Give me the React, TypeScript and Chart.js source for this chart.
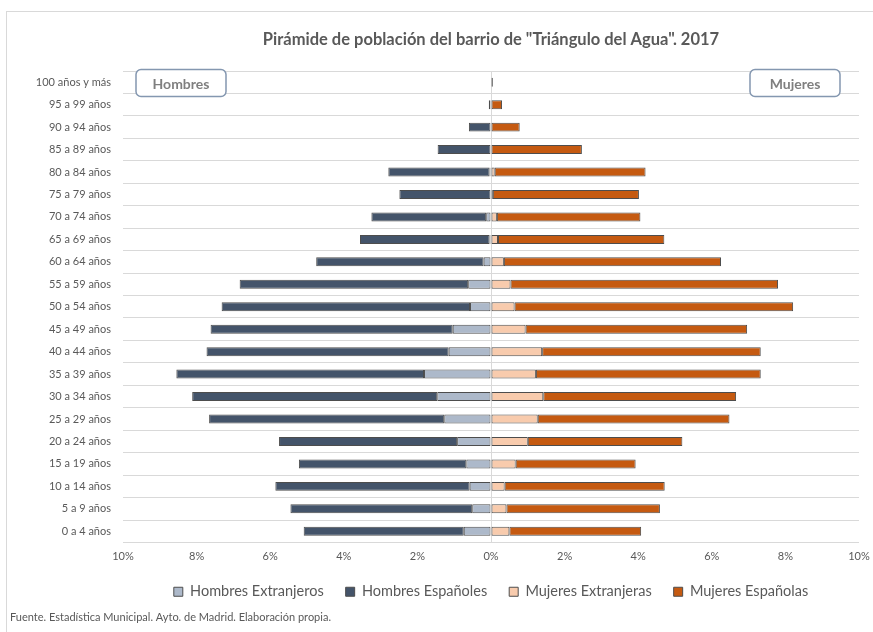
import React, { useEffect, useRef } from "react";
import { Chart, registerables } from "chart.js";

Chart.register(...registerables);

const TITLE = 'Pirámide de población del barrio de "Triángulo del Agua". 2017';
const FOOTER = "Fuente. Estadística Municipal. Ayto. de Madrid. Elaboración propia.";

const AGE_GROUPS = [
  "100 años y más",
  "95 a 99 años",
  "90 a 94 años",
  "85 a 89 años",
  "80 a 84 años",
  "75 a 79 años",
  "70 a 74 años",
  "65 a 69 años",
  "60 a 64 años",
  "55 a 59 años",
  "50 a 54 años",
  "45 a 49 años",
  "40 a 44 años",
  "35 a 39 años",
  "30 a 34 años",
  "25 a 29 años",
  "20 a 24 años",
  "15 a 19 años",
  "10 a 14 años",
  "5 a 9 años",
  "0 a 4 años",
];

// percentages of total population
const HOMBRES_EXTRANJEROS = [0, 0, 0, 0, 0.04, 0.0, 0.13, 0.04, 0.2, 0.62, 0.57, 1.04, 1.15, 1.82, 1.46, 1.27, 0.92, 0.67, 0.58, 0.51, 0.74];
const HOMBRES_ESPANOLES = [0, 0.06, 0.6, 1.45, 2.75, 2.49, 3.12, 3.52, 4.55, 6.21, 6.75, 6.58, 6.58, 6.73, 6.66, 6.39, 4.84, 4.55, 5.28, 4.94, 4.35];
const MUJERES_EXTRANJERAS = [0, 0, 0, 0, 0.1, 0.05, 0.16, 0.19, 0.35, 0.53, 0.64, 0.94, 1.39, 1.22, 1.42, 1.27, 1.0, 0.67, 0.37, 0.42, 0.5];
const MUJERES_ESPANOLAS = [0.05, 0.3, 0.78, 2.47, 4.1, 3.97, 3.9, 4.52, 5.9, 7.27, 7.57, 6.02, 5.94, 6.11, 5.24, 5.21, 4.2, 3.26, 4.35, 4.17, 3.58];

const X_MIN = -10;
const X_MAX = 10;
const X_STEP = 2;

const FONT = "Lato";
const GREY_TEXT = "#595959";

function roundRect(ctx: CanvasRenderingContext2D, x: number, y: number, w: number, h: number, r: number) {
  ctx.beginPath();
  ctx.moveTo(x + r, y);
  ctx.lineTo(x + w - r, y);
  ctx.arcTo(x + w, y, x + w, y + r, r);
  ctx.lineTo(x + w, y + h - r);
  ctx.arcTo(x + w, y + h, x + w - r, y + h, r);
  ctx.lineTo(x + r, y + h);
  ctx.arcTo(x, y + h, x, y + h - r, r);
  ctx.lineTo(x, y + r);
  ctx.arcTo(x, y, x + r, y, r);
  ctx.closePath();
}

const decorPlugin = {
  id: "decor",
  afterDraw(chart: any) {
    const { ctx, chartArea } = chart;
    ctx.save();
    // title
    ctx.font = `bold 16.5px ${FONT}`;
    ctx.fillStyle = GREY_TEXT;
    ctx.textAlign = "center";
    ctx.textBaseline = "middle";
    ctx.fillText(TITLE, (chartArea.left + chartArea.right) / 2, 40);

    // side boxes
    const drawBox = (x: number, label: string) => {
      const y = chartArea.top - 1.5;
      const w = 90;
      const h = 27;
      roundRect(ctx, x, y, w, h, 5);
      ctx.fillStyle = "#ffffff";
      ctx.fill();
      ctx.lineWidth = 1.5;
      ctx.strokeStyle = "#8497b0";
      ctx.stroke();
      ctx.font = `bold 14px ${FONT}`;
      ctx.fillStyle = "#7f7f7f";
      ctx.textAlign = "center";
      ctx.textBaseline = "middle";
      ctx.fillText(label, x + w / 2, y + h / 2 + 1);
    };
    drawBox(chartArea.left + 13, "Hombres");
    drawBox(chartArea.right - 19 - 90, "Mujeres");

    // footer
    ctx.font = `11px ${FONT}`;
    ctx.fillStyle = GREY_TEXT;
    ctx.textAlign = "left";
    ctx.textBaseline = "middle";
    ctx.fillText(FOOTER, 10, 617);
    ctx.restore();
  },
};

export default function App() {
  const canvasRef = useRef<HTMLCanvasElement | null>(null);

  useEffect(() => {
    if (!canvasRef.current) return;
    const neg = (arr: number[]) => arr.map((v) => -v);
    const common = { borderColor: "#4d4d4d", borderWidth: 1, borderSkipped: false as const, barPercentage: 0.4, categoryPercentage: 1 };
    const chart = new Chart(canvasRef.current, {
      type: "bar",
      data: {
        labels: AGE_GROUPS,
        datasets: [
          { label: "Hombres Extranjeros", data: neg(HOMBRES_EXTRANJEROS), backgroundColor: "#adb9ca", ...common },
          { label: "Hombres Españoles", data: neg(HOMBRES_ESPANOLES), backgroundColor: "#44546a", ...common },
          { label: "Mujeres Extranjeras", data: MUJERES_EXTRANJERAS, backgroundColor: "#f8cbad", ...common },
          { label: "Mujeres Españolas", data: MUJERES_ESPANOLAS, backgroundColor: "#c55a11", ...common },
        ],
      },
      options: {
        indexAxis: "y",
        animation: false,
        responsive: true,
        maintainAspectRatio: false,
        layout: { padding: { top: 71, bottom: 23, left: 0, right: 123 } },
        plugins: {
          title: { display: false },
          tooltip: { enabled: false },
          legend: {
            position: "bottom",
            fullSize: false,
            labels: {
              boxWidth: 9,
              boxHeight: 9,
              padding: 22,
              color: GREY_TEXT,
              font: { family: FONT, size: 14.5 },
            },
          },
        },
        scales: {
          x: {
            stacked: true,
            min: X_MIN,
            max: X_MAX,
            border: { display: false },
            grid: {
              drawTicks: false,
              color: (c: any) => (c.tick && c.tick.value === 0 ? "#d9d9d9" : "rgba(0,0,0,0)"),
            },
            ticks: {
              stepSize: X_STEP,
              padding: 7,
              maxRotation: 0,
              minRotation: 0,
              color: GREY_TEXT,
              font: { family: FONT, size: 11 },
              callback: (v: any) => `${Math.abs(Number(v))}%`,
            },
            afterFit: (s: any) => {
              s.height = 20;
            },
          },
          y: {
            stacked: true,
            border: { display: false },
            grid: { drawTicks: false, color: "#d9d9d9", offset: true },
            ticks: { padding: 12, color: GREY_TEXT, font: { family: FONT, size: 11 } },
            afterFit: (s: any) => {
              s.width = 123;
            },
          },
        },
      },
      plugins: [decorPlugin],
    });
    return () => chart.destroy();
  }, []);

  return (
    <div style={{ position: "absolute", left: 0, top: 0, width: 873, height: 632, overflow: "hidden", background: "#fff" }}>
      <div style={{ position: "absolute", left: 0, top: 0, width: 982, height: 632 }}>
        <canvas ref={canvasRef} />
      </div>
      <div
        style={{
          position: "absolute",
          left: 6,
          top: 11,
          width: 950,
          height: 700,
          border: "1px solid #d9d9d9",
          pointerEvents: "none",
        }}
      />
    </div>
  );
}
